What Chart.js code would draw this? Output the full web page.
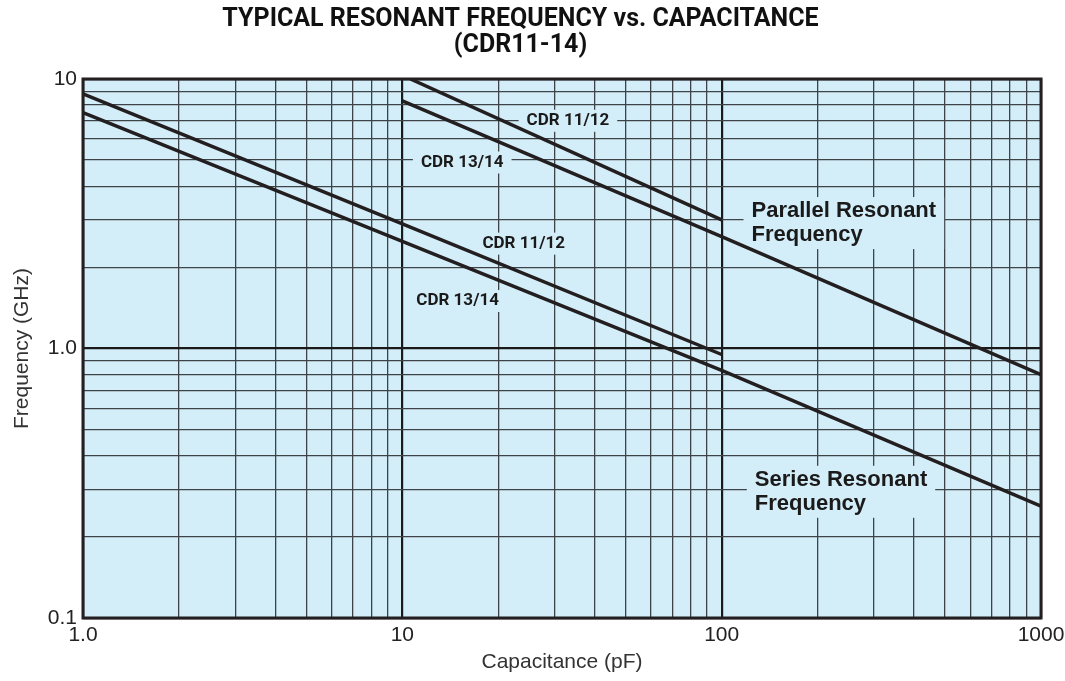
<!DOCTYPE html>
<html>
<head>
<meta charset="utf-8">
<script src="https://cdn.jsdelivr.net/npm/chart.js@4.4.1/dist/chart.umd.min.js"></script>
<style>
  html, body { margin: 0; padding: 0; background: #fff; }
  #wrap { width: 1065px; height: 681px; }
</style>
</head>
<body>
<div id="wrap"><canvas id="chart" width="1065" height="681"></canvas></div>
<script>
// capacitance (pF) / frequency (GHz)
const parallel1112C = [10.6, 100];
const parallel1112F = [10, 3.0];
const parallel1314C = [10, 100, 1000];
const parallel1314F = [8.3, 2.6, 0.8];
const series1112C = [1, 10, 100];
const series1112F = [8.8, 2.9, 0.95];
const series1314C = [1, 10, 100, 1000];
const series1314F = [7.5, 2.5, 0.83, 0.26];

const xDecades = [1, 10, 100, 1000];
const xTickLabels = ["1.0", "10", "100", "1000"];
const yDecades = [0.1, 1, 10];
const yTickLabels = ["0.1", "1.0", "10"];

// in-plot labels: text lines, capacitance, frequency
const noteTexts = [["CDR 11/12"], ["CDR 13/14"], ["CDR 11/12"], ["CDR 13/14"],
  ["Parallel Resonant", "Frequency"], ["Series Resonant", "Frequency"]];
const noteC = [33, 15.4, 24, 14.9, 124, 127];
const noteF = [7.0, 4.9, 2.45, 1.5, 2.92, 0.294];

const lineColor = "#231f20";
const areaBg = "#d4eef9";

function pts(xs, ys) {
  return xs.map((x, i) => ({ x: x, y: ys[i] }));
}

function minorTicks(decades) {
  let out = [];
  decades.forEach((d, i) => {
    if (i === decades.length - 1) { out.push(d); return; }
    for (let k = 1; k <= 9; k++) out.push(+(d * k).toPrecision(3));
  });
  return out;
}

function isDecade(v, list) {
  return list.some((d) => Math.abs(d - v) < 1e-9);
}

const areaPlugin = {
  id: "areaPlugin",
  beforeDraw(chart) {
    const { ctx, chartArea: a } = chart;
    ctx.save();
    ctx.fillStyle = areaBg;
    ctx.fillRect(a.left, a.top, a.right - a.left, a.bottom - a.top);
    ctx.restore();
  },
  beforeDatasetsDraw(chart) {
    const { ctx, scales } = chart;
    ctx.save();
    noteTexts.forEach((lines, i) => {
      const big = lines.length > 1;
      ctx.font = big ? "bold 22px 'Liberation Sans'" : "bold 17px Roboto";
      const lh = big ? 24 : 18;
      const px = scales.x.getPixelForValue(noteC[i]);
      const py = scales.y.getPixelForValue(noteF[i]);
      const w = Math.max(...lines.map((t) => ctx.measureText(t).width));
      const h = lh * lines.length;
      const left = big ? px : px - w / 2;
      ctx.fillStyle = areaBg;
      ctx.fillRect(left - 8, py - h / 2 - 2, w + 16, h + 4);
      ctx.fillStyle = "#1a1a1a";
      ctx.textBaseline = "middle";
      ctx.textAlign = "left";
      lines.forEach((t, j) => {
        ctx.fillText(t, left, py - h / 2 + lh * (j + 0.5));
      });
    });
    ctx.restore();
  },
  afterDraw(chart) {
    const { ctx, chartArea: a } = chart;
    ctx.save();
    ctx.strokeStyle = "#231f20";
    ctx.lineWidth = 3;
    ctx.strokeRect(a.left, a.top, a.right - a.left, a.bottom - a.top);
    ctx.restore();
  }
};

const ds = (data) => ({
  data: data,
  borderColor: lineColor,
  borderWidth: 3.5,
  pointRadius: 0,
  fill: false,
  tension: 0
});

new Chart(document.getElementById("chart"), {
  type: "line",
  data: {
    datasets: [
      ds(pts(parallel1112C, parallel1112F)),
      ds(pts(parallel1314C, parallel1314F)),
      ds(pts(series1112C, series1112F)),
      ds(pts(series1314C, series1314F))
    ]
  },
  options: {
    responsive: false,
    animation: false,
    layout: { padding: { left: 0, right: 24, top: 0, bottom: 0 } },
    plugins: {
      legend: { display: false },
      tooltip: { enabled: false },
      title: {
        display: true,
        text: ["TYPICAL RESONANT FREQUENCY vs. CAPACITANCE", "(CDR11-14)"],
        color: "#111",
        font: { family: "Roboto", size: 25, weight: "bold", lineHeight: 1.04 },
        padding: { top: 7, bottom: 20 }
      }
    },
    scales: {
      x: {
        type: "logarithmic",
        min: 1,
        max: 1000,
        afterBuildTicks: (s) => { s.ticks = minorTicks(xDecades).map((v) => ({ value: v })); },
        afterFit: (s) => { s.height = 63; s.paddingLeft = 0; s.paddingRight = 0; },
        ticks: {
          autoSkip: false,
          maxRotation: 0,
          padding: 5,
          color: "#222",
          font: { family: "Liberation Sans", size: 21 },
          callback: (v) => {
            const i = xDecades.findIndex((d) => Math.abs(d - v) < 1e-9);
            return i >= 0 ? xTickLabels[i] : "";
          }
        },
        grid: {
          drawTicks: false,
          color: (c) => isDecade(c.tick.value, xDecades) ? "#1a1a1a" : "#3e4347",
          lineWidth: (c) => isDecade(c.tick.value, xDecades) ? 2.2 : 1.3
        },
        border: { display: false },
        title: {
          display: true,
          text: "Capacitance (pF)",
          color: "#333",
          font: { family: "Liberation Sans", size: 21 },
          padding: { top: 0, bottom: 6 }
        }
      },
      y: {
        type: "logarithmic",
        min: 0.1,
        max: 10,
        afterBuildTicks: (s) => { s.ticks = minorTicks(yDecades).map((v) => ({ value: v })); },
        afterFit: (s) => { s.width = 83; s.paddingTop = 0; s.paddingBottom = 0; },
        ticks: {
          autoSkip: false,
          padding: 6,
          color: "#222",
          font: { family: "Liberation Sans", size: 21 },
          callback: (v) => {
            const i = yDecades.findIndex((d) => Math.abs(d - v) < 1e-9);
            return i >= 0 ? yTickLabels[i] : "";
          }
        },
        grid: {
          drawTicks: false,
          color: (c) => isDecade(c.tick.value, yDecades) ? "#1a1a1a" : "#3e4347",
          lineWidth: (c) => isDecade(c.tick.value, yDecades) ? 2.2 : 1.3
        },
        border: { display: false },
        title: {
          display: true,
          text: "Frequency (GHz)",
          color: "#333",
          font: { family: "Liberation Sans", size: 21 },
          padding: { top: 9.5, bottom: 0 }
        }
      }
    }
  },
  plugins: [areaPlugin]
});
</script>
</body>
</html>
